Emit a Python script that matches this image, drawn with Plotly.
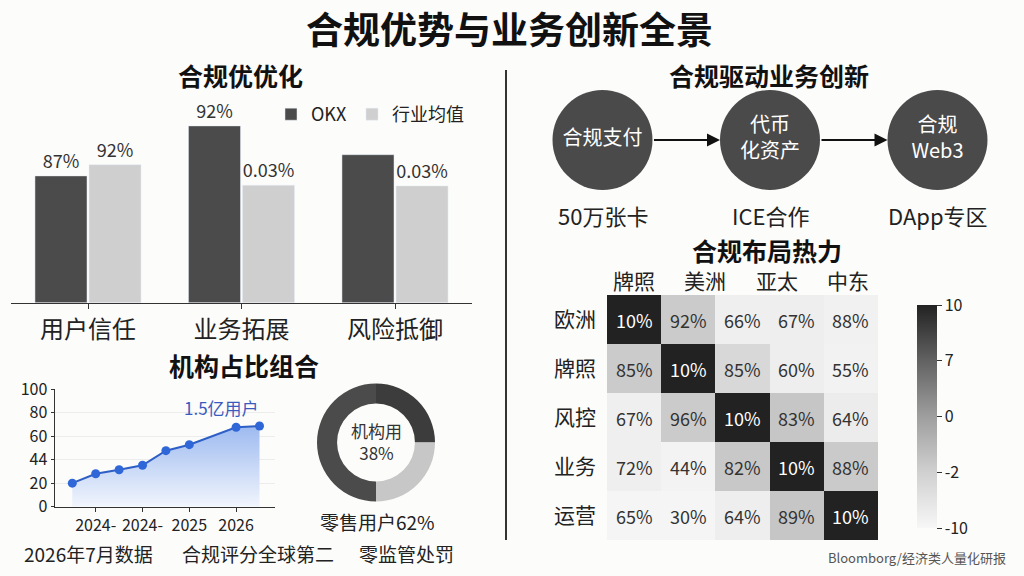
import numpy as np
import plotly.graph_objects as go

W, H = 1024, 576
FONT = "Noto Sans CJK SC, Noto Sans, sans-serif"
BG = "#fcfcfa"
INK = "#222222"

# ---------------- data ----------------
# bar chart (合规优优化)
bar_categories = ["用户信任", "业务拓展", "风险抵御"]
okx_heights = [63.4, 88.4, 74.0]
industry_heights = [69.0, 58.7, 58.4]
okx_labels = ["87%", "92%", ""]
industry_labels = ["92%", "0.03%", "0.03%"]

# line chart (机构占比组合)
line_x = [0, 1, 2, 3, 4, 5, 7, 8]
line_y = [20, 28, 31.4, 35.2, 47.6, 52.7, 67.5, 68.6]
line_tickvals = [1, 3, 5, 7]
line_ticktext = ["2024-", "2024-", "2025", "2026"]
line_ytickvals = [0, 20, 40, 60, 80, 100]
line_yticktext = ["0", "20", "44", "60", "80", "100"]

# donut
donut_labels = ["机构A", "零售", "机构B"]
donut_values = [25, 25, 50]
donut_colors = ["#3c3c3c", "#c7c7c7", "#4b4b4b"]

# flow
flow_nodes = ["合规支付", "代币<br>化资产", "合规<br>Web3"]
flow_notes = ["50万张卡", "ICE合作", "DApp专区"]

# heatmap (合规布局热力)
heat_rows = ["欧洲", "牌照", "风控", "业务", "运营"]
heat_cols = ["牌照", "美洲", "亚太", "中东"]
heat_z = [
    [10, -4.5, -9.0, -8.8, -9.2],
    [-4.5, 10, -6.0, -8.8, -9.3],
    [-9.0, -4.5, 10, -4.0, -8.6],
    [-9.0, -9.5, -4.2, 10, -4.4],
    [-9.8, -9.8, -8.8, -4.0, 10],
]
heat_text = [
    ["10%", "92%", "66%", "67%", "88%"],
    ["85%", "10%", "85%", "60%", "55%"],
    ["67%", "96%", "10%", "83%", "64%"],
    ["72%", "44%", "82%", "10%", "88%"],
    ["65%", "30%", "64%", "89%", "10%"],
]
cbar_tickvals = [10, 5, 0, -5, -10]
cbar_ticktext = ["10", "7", "0", "-2", "-10"]


def px(x):
    return x / W


def py(y):
    return 1 - y / H


fig = go.Figure()

# ---------------- bar chart ----------------
fig.add_trace(go.Bar(
    x=bar_categories, y=okx_heights, name="OKX", marker_color="#4b4b4b",
    text=okx_labels, textposition="outside", cliponaxis=False,
    textfont=dict(size=18, color="#333"), xaxis="x", yaxis="y", hoverinfo="skip"))
fig.add_trace(go.Bar(
    x=bar_categories, y=industry_heights, name="行业均值", marker_color="#cfcfcf",
    text=industry_labels, textposition="outside", cliponaxis=False,
    textfont=dict(size=18, color="#333"), xaxis="x", yaxis="y", hoverinfo="skip"))

# ---------------- line chart ----------------
fig.add_trace(go.Scatter(
    x=line_x, y=line_y, mode="lines+markers", showlegend=False,
    line=dict(color="#2e5fc6", width=2),
    marker=dict(size=9, color="#2f67d8"),
    fill="tozeroy",
    fillgradient=dict(type="vertical",
                      colorscale=[[0, "#f1f5fd"], [1, "#9dbaf0"]]),
    xaxis="x2", yaxis="y2", hoverinfo="skip"))

# ---------------- donut ----------------
fig.add_trace(go.Pie(
    labels=donut_labels, values=donut_values, hole=0.66, sort=False,
    direction="clockwise", rotation=0, textinfo="none", hoverinfo="skip",
    showlegend=False, marker=dict(colors=donut_colors, line=dict(width=0)),
    domain=dict(x=[px(317), px(435)], y=[py(501.5), py(383.5)])))

# ---------------- flow ----------------
fig.add_trace(go.Scatter(
    x=list(range(len(flow_nodes))), y=[0] * len(flow_nodes),
    mode="markers+text", text=flow_nodes, textposition="middle center",
    textfont=dict(size=20, color="white"), cliponaxis=False,
    marker=dict(size=100, color="#4a4a4a", line=dict(width=0)),
    showlegend=False, xaxis="x4", yaxis="y4", hoverinfo="skip"))

# ---------------- heatmap ----------------
heat_colorscale = [[0, "#f7f7f7"], [0.25, "#d0d0d0"], [0.5, "#9e9e9e"],
                   [0.75, "#626262"], [1, "#222222"]]
fig.add_trace(go.Heatmap(
    z=heat_z, x=list(range(len(heat_z[0]))), y=list(range(len(heat_rows))),
    colorscale=heat_colorscale, zmin=-10, zmax=10, xgap=0, ygap=0,
    hoverinfo="skip", xaxis="x3", yaxis="y3",
    colorbar=dict(x=px(907), xanchor="left", y=py(295), yanchor="top",
                  len=(538 - 295) / H, lenmode="fraction", thickness=20,
                  thicknessmode="pixels", outlinewidth=0, ticks="outside",
                  ticklen=5, tickcolor="#333", tickvals=cbar_tickvals,
                  ticktext=cbar_ticktext,
                  tickfont=dict(size=16, color=INK, family=FONT))))

annotations = []


def note(text, x, y, size, color=INK, xanchor="center", **kw):
    d = dict(x=px(x), y=py(y), xref="paper", yref="paper", text=text,
             showarrow=False, xanchor=xanchor, yanchor="middle",
             font=dict(size=size, color=color))
    d.update(kw)
    annotations.append(d)


# cell labels
for i, row in enumerate(heat_text):
    for j, t in enumerate(row):
        annotations.append(dict(
            x=j, y=i, xref="x3", yref="y3", text=t, showarrow=False,
            xanchor="center", yanchor="middle",
            font=dict(size=18, color="white" if heat_z[i][j] > 5 else "#333")))

# column labels of heatmap (spread across the columns)
col_pos = np.linspace(0, 3.95, len(heat_cols))
for k, c in enumerate(heat_cols):
    annotations.append(dict(x=col_pos[k], xref="x3", y=py(280), yref="paper",
                            text=c, showarrow=False, xanchor="center",
                            yanchor="middle", font=dict(size=21, color=INK)))

# flow arrows and notes
r_units = 50 / 167.5
for i in range(len(flow_nodes) - 1):
    annotations.append(dict(
        x=i + 1 - r_units, y=0, ax=i + r_units, ay=0,
        xref="x4", yref="y4", axref="x4", ayref="y4", text="",
        showarrow=True, arrowhead=2, arrowsize=1.3, arrowwidth=2,
        arrowcolor="#111"))
for i, n in enumerate(flow_notes):
    annotations.append(dict(x=i, xref="x4", y=py(215), yref="paper", text=n,
                            showarrow=False, xanchor="center", yanchor="middle",
                            font=dict(size=22, color=INK)))

# titles
titles = [
    ("合规优势与业务创新全景", 509, 28, 37),
    ("合规优优化", 240, 75, 25),
    ("机构占比组合", 244, 365, 25),
    ("合规驱动业务创新", 769, 75, 25),
    ("合规布局热力", 767, 250, 25),
]
for t, x, y, s in titles:
    note("<b>" + t + "</b>", x, y, s, color="#111")

# line chart annotation
note("1.5亿用户", 221, 407, 17, color="#3a5bbd")

# donut texts
note("机构用<br>38%", 376, 441, 17, color="#333")
note("零售用户62%", 377, 521, 19)

# bottom notes
for t, x in [("2026年7月数据", 22), ("合规评分全球第二", 180), ("零监管处罚", 357)]:
    note(t, x, 553, 19, xanchor="left")

note("Bloomborg/经济类人量化研报", 1008, 557, 13, color="#555", xanchor="right")

fig.update_layout(
    width=W, height=H, autosize=False,
    margin=dict(l=0, r=0, t=0, b=0, autoexpand=False),
    paper_bgcolor=BG, plot_bgcolor=BG,
    font=dict(family=FONT, color=INK),
    barmode="group", bargap=0.296, bargroupgap=0.037,
    showlegend=True,
    legend=dict(orientation="h", x=px(271), y=py(96), xanchor="left",
                yanchor="top", font=dict(size=18, color=INK),
                bgcolor="rgba(0,0,0,0)", itemwidth=30, tracegroupgap=0),
    xaxis=dict(domain=[px(11.25), px(471.75)], type="category",
               showline=True, linecolor="#333", linewidth=1.5,
               ticks="outside", ticklen=5, tickcolor="#333",
               tickfont=dict(size=24, color=INK), anchor="y",
               showgrid=False, zeroline=False, fixedrange=True),
    yaxis=dict(domain=[py(302.7), py(102.7)], range=[0, 100], visible=False,
               anchor="x", fixedrange=True),
    xaxis2=dict(domain=[px(55), px(275)], range=[-0.739, 8.662],
                tickvals=line_tickvals, ticktext=line_ticktext,
                ticks="outside", ticklen=4, tickcolor="#333",
                showline=True, linecolor="#333", linewidth=1.5,
                showgrid=False, zeroline=False,
                tickfont=dict(size=16, color=INK), anchor="y2"),
    yaxis2=dict(domain=[py(506.7), py(389)], range=[0, 100],
                tickvals=line_ytickvals, ticktext=line_yticktext,
                ticks="outside", ticklen=3, tickcolor="#333",
                showline=True, linecolor="#333", linewidth=1.5,
                showgrid=True, gridcolor="#ececec", zeroline=False,
                tickfont=dict(size=16, color=INK), anchor="x2"),
    xaxis3=dict(domain=[px(607), px(878)], range=[-0.5, 4.5],
                showticklabels=False, showgrid=False, zeroline=False,
                showline=False, ticks="", anchor="y3"),
    yaxis3=dict(domain=[py(540), py(295)], range=[4.5, -0.5],
                tickvals=list(range(len(heat_rows))), ticktext=heat_rows,
                ticks="", ticklabelstandoff=10, showgrid=False,
                zeroline=False, showline=False,
                tickfont=dict(size=21, color=INK), anchor="x3"),
    xaxis4=dict(domain=[px(518.75), px(1004.5)], range=[-0.5, 2.4],
                visible=False, anchor="y4"),
    yaxis4=dict(domain=[py(190), py(90)], range=[-1, 1], visible=False,
                anchor="x4"),
    shapes=[dict(type="line", xref="paper", yref="paper",
                 x0=px(506), x1=px(506), y0=py(70), y1=py(540),
                 line=dict(color="#333", width=2))],
    annotations=annotations,
)

fig.write_html(
    "out.html",
    config={"displayModeBar": False, "staticPlot": True},
    post_script="document.body.style.margin='0';"
                "document.body.style.background='%s';" % BG,
)
